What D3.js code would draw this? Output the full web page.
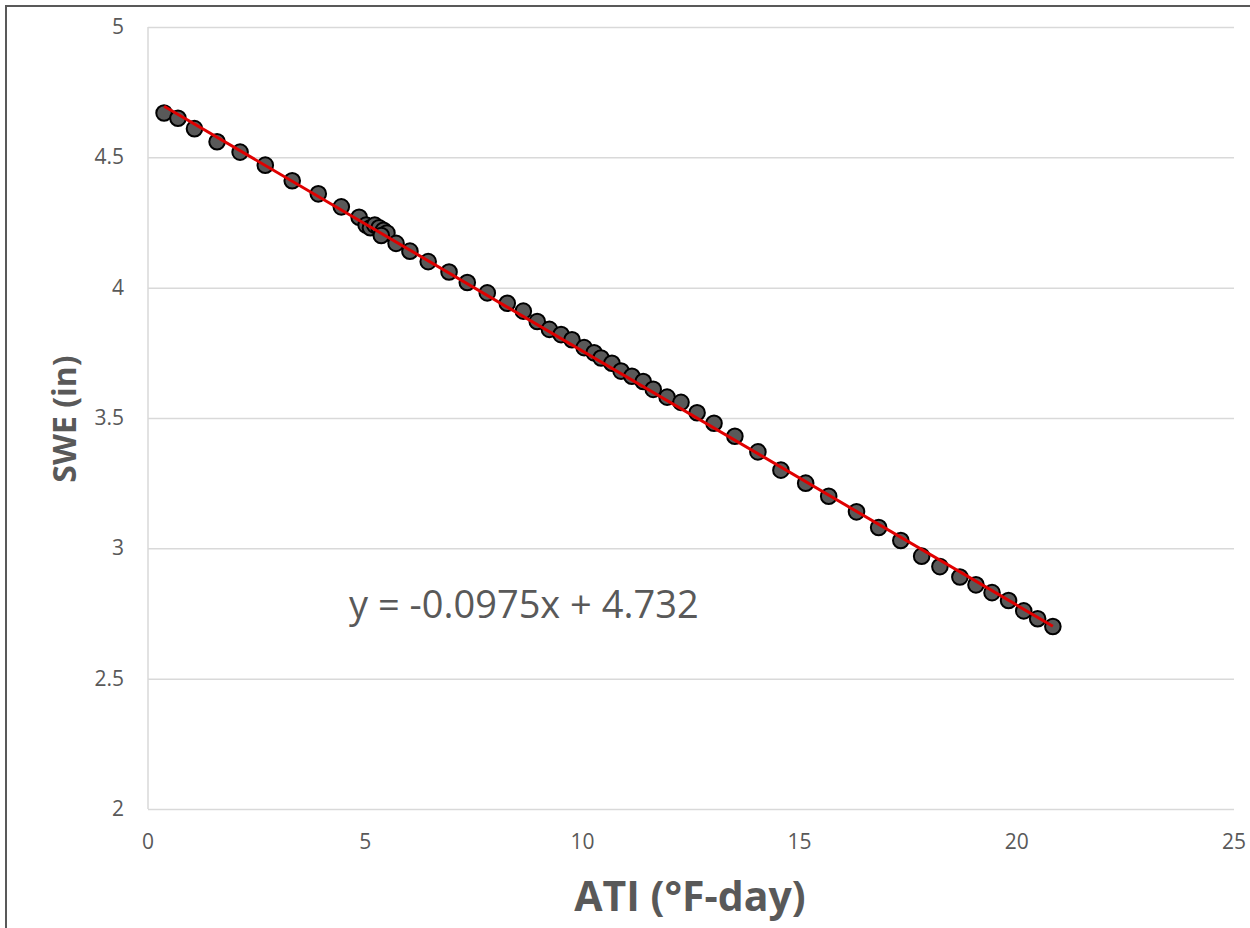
<!DOCTYPE html>
<html>
<head>
<meta charset="utf-8">
<script src="https://cdn.jsdelivr.net/npm/d3@7"></script>
<style>
  body { margin: 0; background: #fff; }
  text { font-family: "Open Sans", sans-serif; fill: #595959; }
  .grid line { stroke: #d9d9d9; stroke-width: 1.5; }
  .grid path { display: none; }
</style>
</head>
<body>
<div id="chart"></div>
<script>
// ATI (°F-day) vs SWE (in)
const atiValues = [0.37, 0.69, 1.07, 1.59, 2.12, 2.70, 3.32, 3.92, 4.45, 4.86,
                   5.02, 5.12, 5.22, 5.32, 5.42, 5.50, 5.37, 5.71, 6.03, 6.45,
                   6.93, 7.35, 7.81, 8.27, 8.64, 8.96, 9.24, 9.51, 9.76, 10.04,
                   10.27, 10.43, 10.68, 10.89, 11.14, 11.40, 11.63, 11.95, 12.27, 12.64,
                   13.03, 13.51, 14.04, 14.57, 15.14, 15.67, 16.31, 16.82, 17.33, 17.81,
                   18.23, 18.69, 19.06, 19.43, 19.81, 20.16, 20.48, 20.83];
const sweValues = [4.67, 4.65, 4.61, 4.56, 4.52, 4.47, 4.41, 4.36, 4.31, 4.27,
                   4.24, 4.23, 4.24, 4.23, 4.22, 4.21, 4.20, 4.17, 4.14, 4.10,
                   4.06, 4.02, 3.98, 3.94, 3.91, 3.87, 3.84, 3.82, 3.80, 3.77,
                   3.75, 3.73, 3.71, 3.68, 3.66, 3.64, 3.61, 3.58, 3.56, 3.52,
                   3.48, 3.43, 3.37, 3.30, 3.25, 3.20, 3.14, 3.08, 3.03, 2.97,
                   2.93, 2.89, 2.86, 2.83, 2.80, 2.76, 2.73, 2.70];
const xTicks = [0, 5, 10, 15, 20, 25];
const yTicks = [2, 2.5, 3, 3.5, 4, 4.5, 5];
const slope = -0.0975, intercept = 4.732;
const equationLabel = "y = -0.0975x + 4.732";

const W = 1250, H = 928;
const margin = { top: 27, right: 16, bottom: 119, left: 148 },
      width = W - margin.left - margin.right,
      height = H - margin.top - margin.bottom;

const root = d3.select("#chart").append("svg")
    .attr("width", W).attr("height", H);

// outer chart border
root.append("rect")
    .attr("x", 6).attr("y", 6)
    .attr("width", W).attr("height", H)
    .attr("fill", "none").attr("stroke", "#595959").attr("stroke-width", 2);

const svg = root.append("g")
    .attr("transform", `translate(${margin.left},${margin.top})`);

const x = d3.scaleLinear().domain([0, 25]).range([0, width]);
const y = d3.scaleLinear().domain([2, 5]).range([height, 0]);

// horizontal grid
svg.append("g")
   .attr("class", "grid")
   .call(d3.axisLeft(y).tickValues(yTicks).tickSize(-width).tickFormat(""));

// left axis line
svg.append("line")
   .attr("x1", 0).attr("x2", 0).attr("y1", 0).attr("y2", height)
   .attr("stroke", "#d9d9d9").attr("stroke-width", 1.5);

// tick labels
svg.selectAll(".ylab").data(yTicks).enter().append("text")
   .attr("x", -24).attr("y", d => y(d) + 7)
   .attr("text-anchor", "end").attr("font-size", 21)
   .text(d => d);

svg.selectAll(".xlab").data(xTicks).enter().append("text")
   .attr("x", d => x(d)).attr("y", height + 40)
   .attr("text-anchor", "middle").attr("font-size", 21)
   .text(d => d);

// axis titles
svg.append("text")
   .attr("x", 690 - margin.left).attr("y", height + 102)
   .attr("text-anchor", "middle").attr("font-size", 41).attr("font-weight", "bold")
   .text("ATI (°F-day)");

svg.append("text")
   .attr("transform", `translate(${76 - margin.left},${419 - margin.top}) rotate(-90)`)
   .attr("text-anchor", "middle").attr("font-size", 32).attr("font-weight", "bold")
   .text("SWE (in)");

// points
const pts = atiValues.map((v, i) => ({ x: v, y: sweValues[i] }));
svg.selectAll("circle").data(pts).enter().append("circle")
   .attr("cx", d => x(d.x)).attr("cy", d => y(d.y))
   .attr("r", 7.8)
   .attr("fill", "#595959").attr("stroke", "#000").attr("stroke-width", 2);

// linear trendline
const xr = d3.extent(atiValues);
svg.append("path")
   .datum(xr.map(v => ({ x: v, y: slope * v + intercept })))
   .attr("fill", "none").attr("stroke", "#e00000").attr("stroke-width", 3)
   .attr("d", d3.line().x(d => x(d.x)).y(d => y(d.y)));

// equation
svg.append("text")
   .attr("x", 349 - margin.left).attr("y", 618 - margin.top)
   .attr("font-size", 38)
   .text(equationLabel);
</script>
</body>
</html>
